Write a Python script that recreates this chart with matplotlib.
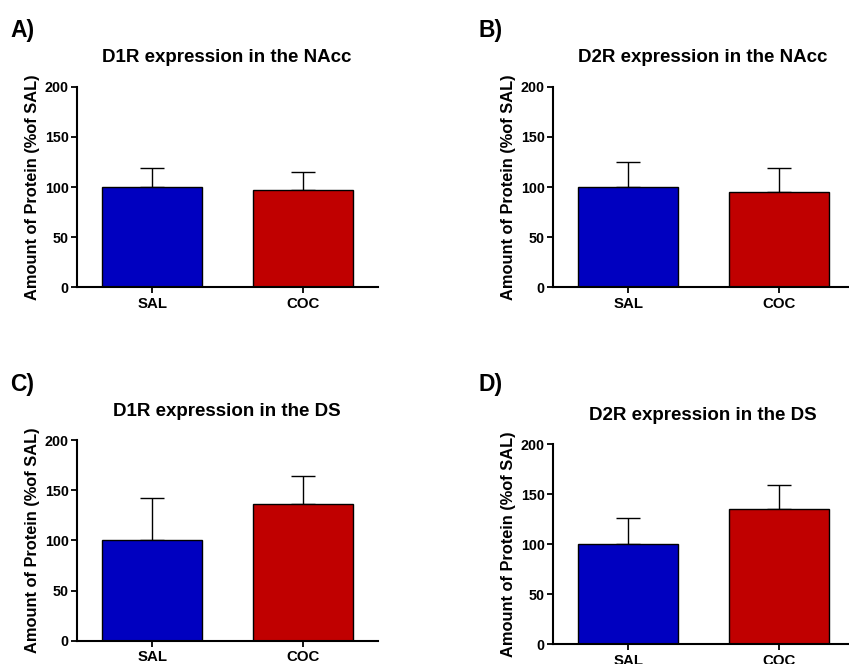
import matplotlib
matplotlib.use("Agg")
import matplotlib.pyplot as plt

plt.rcParams['font.family'] = ['Liberation Sans', 'DejaVu Sans']
plt.rcParams['font.weight'] = 'bold'

groups = ['SAL', 'COC']
colors = ['#0000C0', '#C00000']

letters = ['A)', 'B)', 'C)', 'D)']
titles = ['D1R expression in the NAcc', 'D2R expression in the NAcc',
          'D1R expression in the DS', 'D2R expression in the DS']
means = [[100, 97], [100, 95.5], [100, 136], [100, 135.5]]
errs = [[18.5, 18], [24.5, 23], [42, 28], [26, 24]]

ylabel = 'Amount of Protein (%of SAL)'
yticks = [0, 50, 100, 150, 200]

W, H = 849, 664
# pixel boxes: (x axis left, y of 0, y of 200, letter x, letter y, title y)
boxes = [
    (77, 287.3, 86.7, 10, 30, 58),
    (553, 287.3, 86.7, 478, 30, 58),
    (77, 640.7, 440, 10, 385, 411),
    (553, 644.3, 444, 478, 385, 415),
]

fig = plt.figure(figsize=(W / 100, H / 100), dpi=100)

for i in range(4):
    x0, yb, yt, lx, ly, ty = boxes[i]
    ax = fig.add_axes([x0 / W, 1 - yb / H, 301 / W, (yb - yt) / H])
    ax.bar([0, 1], means[i], width=0.667, color=colors, edgecolor='black',
           linewidth=1.0, zorder=2)
    ax.errorbar([0, 1], means[i], yerr=[[0, 0], errs[i]], fmt='none',
                ecolor='black', elinewidth=1.0, capsize=8.6, capthick=1.0,
                zorder=1)
    ax.set_xlim(-0.5, 1.5)
    ax.set_ylim(0, 200)
    ax.set_yticks(yticks)
    ax.set_xticks([0, 1])
    ax.set_xticklabels(groups, fontsize=10.8, fontweight='bold')
    ax.tick_params(axis='y', labelsize=10.3, width=1.3, length=4, pad=2)
    ax.tick_params(axis='x', width=1.3, length=4, pad=3)
    for lab in ax.get_yticklabels():
        lab.set_fontweight('bold')
    ax.spines['top'].set_visible(False)
    ax.spines['right'].set_visible(False)
    ax.spines['left'].set_linewidth(1.5)
    ax.spines['bottom'].set_linewidth(1.5)
    ax.spines['bottom'].set_clip_on(False)
    ax.set_ylabel(ylabel, fontsize=11.8, fontweight='bold', labelpad=3)
    fig.text((x0 + 150) / W, 1 - ty / H, titles[i], fontsize=13.5,
             fontweight='bold', ha='center', va='center')
    fig.text(lx / W, 1 - ly / H, letters[i], fontsize=16.5, fontweight='bold',
             ha='left', va='center')

fig.savefig('out.png', dpi=100)
